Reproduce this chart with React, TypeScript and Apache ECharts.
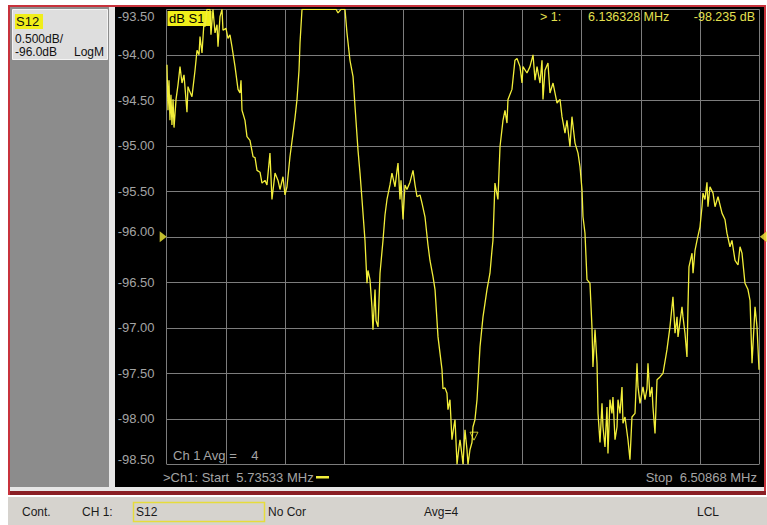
import React, { useEffect, useRef } from "react";
import * as echarts from "echarts";

// ---- Data (network analyzer S12 trace) ----
const freqMHz = [
  5.7357, 5.7370, 5.7383, 5.7396, 5.7409, 5.7422, 5.7436, 5.7449, 5.7475, 5.7501,
  5.7527, 5.7553, 5.7579, 5.7618, 5.7631, 5.7657, 5.7683, 5.7723, 5.7749, 5.7775,
  5.7788, 5.7814, 5.7840, 5.7853, 5.7879, 5.7918, 5.7931, 5.7957, 5.7984, 5.8010,
  5.8023, 5.8049, 5.8075, 5.8088, 5.8127, 5.8153, 5.8179, 5.8205, 5.8245, 5.8284,
  5.8310, 5.8323, 5.8336, 5.8375, 5.8401, 5.8440, 5.8480, 5.8506, 5.8532, 5.8571,
  5.8597, 5.8636, 5.8662, 5.8701, 5.8727, 5.8767, 5.8806, 5.8832, 5.8871, 5.8897,
  5.8923, 5.8962, 5.9002, 5.9028, 5.9054, 5.9080, 5.9093, 5.9119, 5.9354, 5.9563,
  5.9589, 5.9628, 5.9680, 5.9706, 5.9745, 5.9785, 5.9811, 5.9850, 5.9876, 5.9902,
  5.9941, 5.9967, 5.9980, 6.0006, 6.0032, 6.0045, 6.0072, 6.0085, 6.0111, 6.0137,
  6.0176, 6.0202, 6.0228, 6.0267, 6.0293, 6.0333, 6.0359, 6.0372, 6.0398, 6.0411,
  6.0437, 6.0463, 6.0489, 6.0528, 6.0568, 6.0594, 6.0620, 6.0659, 6.0685, 6.0724,
  6.0763, 6.0789, 6.0829, 6.0855, 6.0894, 6.0946, 6.0959, 6.0985, 6.1011, 6.1024,
  6.1050, 6.1076, 6.1103, 6.1116, 6.1142, 6.1168, 6.1181, 6.1207, 6.1220, 6.1246,
  6.1272, 6.1285, 6.1311, 6.1337, 6.1350, 6.1376, 6.1403, 6.1442, 6.1481, 6.1533,
  6.1572, 6.1598, 6.1611, 6.1637, 6.1676, 6.1703, 6.1742, 6.1768, 6.1794, 6.1807,
  6.1859, 6.1898, 6.1925, 6.1964, 6.1990, 6.2003, 6.2055, 6.2094, 6.2134, 6.2160,
  6.2186, 6.2225, 6.2251, 6.2264, 6.2290, 6.2329, 6.2355, 6.2395, 6.2447, 6.2486,
  6.2512, 6.2551, 6.2577, 6.2616, 6.2642, 6.2682, 6.2721, 6.2747, 6.2773, 6.2786,
  6.2812, 6.2838, 6.2877, 6.2903, 6.2916, 6.2943, 6.2969, 6.2982, 6.3008, 6.3034,
  6.3047, 6.3073, 6.3099, 6.3112, 6.3138, 6.3164, 6.3177, 6.3204, 6.3230, 6.3243,
  6.3269, 6.3295, 6.3308, 6.3334, 6.3373, 6.3399, 6.3425, 6.3465, 6.3491, 6.3504,
  6.3530, 6.3569, 6.3595, 6.3621, 6.3634, 6.3660, 6.3686, 6.3699, 6.3726, 6.3752,
  6.3791, 6.3830, 6.3882, 6.3921, 6.3947, 6.3960, 6.3987, 6.4013, 6.4026, 6.4078,
  6.4091, 6.4117, 6.4143, 6.4156, 6.4169, 6.4209, 6.4222, 6.4248, 6.4274, 6.4313,
  6.4339, 6.4352, 6.4378, 6.4404, 6.4417, 6.4443, 6.4483, 6.4509, 6.4548, 6.4600,
  6.4639, 6.4665, 6.4704, 6.4730, 6.4770, 6.4809, 6.4835, 6.4861, 6.4900, 6.4939,
  6.4966, 6.4992, 6.5031, 6.5057, 6.5083,
];

const s12dB = [
  -94.11, -94.61, -94.28, -94.72, -94.44, -94.77, -94.49, -94.80, -94.49, -94.33,
  -94.13, -94.31, -94.22, -94.63, -94.35, -94.41, -94.46, -94.17, -93.95, -94.00,
  -93.80, -93.98, -93.64, -93.69, -93.50, -93.50, -93.78, -93.50, -93.76, -93.67,
  -93.91, -93.58, -93.50, -93.73, -93.71, -93.82, -93.78, -93.91, -94.13, -94.38,
  -94.42, -94.28, -94.61, -94.72, -94.90, -94.94, -95.12, -95.13, -95.27, -95.29,
  -95.41, -95.38, -95.43, -95.08, -95.59, -95.30, -95.38, -95.48, -95.34, -95.54,
  -95.45, -95.12, -94.86, -94.69, -94.49, -94.17, -93.87, -93.50, -93.50, -93.50,
  -93.54, -93.50, -93.50, -93.76, -94.06, -94.24, -94.57, -95.05, -95.30, -95.59,
  -96.04, -96.51, -96.37, -96.47, -96.77, -97.02, -96.58, -96.92, -96.99, -96.40,
  -96.04, -95.76, -95.59, -95.43, -95.30, -95.45, -95.27, -95.19, -95.59, -95.38,
  -95.81, -95.43, -95.48, -95.40, -95.27, -95.43, -95.56, -95.54, -95.63, -95.78,
  -96.09, -96.26, -96.44, -96.58, -97.10, -97.46, -97.67, -97.66, -97.72, -97.90,
  -97.79, -98.23, -98.07, -98.01, -98.50, -98.31, -98.23, -98.40, -98.50, -98.12,
  -98.34, -98.50, -98.34, -98.26, -98.09, -98.01, -97.79, -97.21, -96.88, -96.58,
  -96.40, -96.15, -96.04, -95.41, -95.59, -95.01, -94.72, -94.61, -94.75, -94.49,
  -94.38, -94.06, -94.04, -94.13, -94.31, -94.13, -94.20, -94.13, -94.00, -94.28,
  -94.13, -94.31, -94.06, -94.49, -94.17, -94.09, -94.42, -94.31, -94.53, -94.49,
  -94.68, -94.86, -94.72, -95.01, -94.68, -94.97, -95.08, -95.23, -95.48, -95.78,
  -95.96, -96.47, -96.51, -96.99, -97.43, -97.02, -97.39, -97.94, -98.26, -97.83,
  -98.09, -98.31, -97.87, -98.38, -97.79, -97.94, -97.76, -98.23, -98.09, -97.79,
  -97.94, -97.65, -98.05, -97.98, -98.23, -98.45, -97.98, -97.94, -97.39, -97.65,
  -97.83, -97.65, -97.79, -97.67, -97.39, -97.76, -97.65, -97.87, -98.16, -97.57,
  -97.54, -97.50, -97.24, -96.99, -96.77, -96.66, -97.06, -96.88, -97.10, -96.77,
  -96.88, -97.06, -97.32, -96.77, -96.33, -96.18, -96.40, -96.15, -96.04, -95.89,
  -95.67, -95.52, -95.59, -95.40, -95.67, -95.45, -95.52, -95.67, -95.56, -95.74,
  -95.81, -95.96, -96.11, -96.04, -96.26, -96.31, -96.11, -96.18, -96.51, -96.58,
  -96.70, -97.39, -96.77, -96.99, -97.46,
];

// Instrument settings
const startMHz = 5.73533;
const stopMHz = 6.50868;
const dbPerDiv = 0.5;
const refLevelDb = -96.0;
const yTopDb = -93.5;
const yBottomDb = -98.5;
const avgFactor = 4;
const marker1 = { freqMHz: 6.136328, db: -98.235 };

const FONT = "'Liberation Sans', Arial, sans-serif";
const TRACE = "#f2ee3a";
const GRIDC = "#7c7c7c";
const LABELC = "#a4a4a4";

export default function App() {
  const ref = useRef<HTMLDivElement>(null);

  useEffect(() => {
    document.body.style.margin = "0";
    const chart = echarts.init(ref.current!, undefined, { renderer: "svg" });

    const trace = freqMHz.map((f, i) => [f, s12dB[i]]);

    const option: any = {
      animation: false,
      backgroundColor: "#ffffff",
      grid: { left: 166.7, top: 9.3, width: 592.6, height: 455, show: false },
      xAxis: [
        { type: "value", min: startMHz, max: stopMHz, show: false },
        {
          type: "value", min: 0, max: 10, interval: 1,
          axisLine: { show: false }, axisTick: { show: false }, axisLabel: { show: false },
          splitLine: { show: true, lineStyle: { color: GRIDC, width: 1 } },
        },
      ],
      yAxis: {
        type: "value", min: yBottomDb, max: yTopDb, interval: dbPerDiv,
        axisLine: { show: false }, axisTick: { show: false },
        splitLine: { show: true, lineStyle: { color: GRIDC, width: 1 } },
        axisLabel: {
          show: true, align: "left", margin: 49,
          formatter: (v: number) => {
            const s = v.toFixed(2);
            if (Math.abs(v - yTopDb) < 1e-6) return `{t|${s}}`;
            if (Math.abs(v - refLevelDb) < 1e-6 || Math.abs(v - yBottomDb) < 1e-6) return `{u|${s}}`;
            return `{n|${s}}`;
          },
          rich: {
            n: { color: LABELC, fontSize: 13, fontFamily: FONT },
            t: { color: LABELC, fontSize: 13, fontFamily: FONT, padding: [15, 0, 0, 0] },
            u: { color: LABELC, fontSize: 13, fontFamily: FONT, padding: [0, 0, 10, 0] },
          },
        },
      },
      series: [
        {
          type: "line",
          xAxisIndex: 0, yAxisIndex: 0,
          data: trace,
          showSymbol: false,
          symbol: "none",
          lineStyle: { color: TRACE, width: 1.3 },
          z: 5,
        },
        {
          type: "scatter",
          xAxisIndex: 0, yAxisIndex: 0,
          clip: false,
          silent: true,
          z: 6,
          data: [
            { value: [startMHz, refLevelDb], symbol: "triangle", symbolRotate: -90, symbolSize: [11, 7], symbolOffset: [-3.5, 0], itemStyle: { color: TRACE } },
            { value: [stopMHz, refLevelDb], symbol: "triangle", symbolRotate: 90, symbolSize: [11, 7], symbolOffset: [4, 0], itemStyle: { color: TRACE } },
            { value: [marker1.freqMHz, marker1.db], symbol: "path://M0,0 L10,0 L5,9 Z", symbolSize: [8, 8], symbolOffset: [0, -4], itemStyle: { color: "rgba(0,0,0,0)", borderColor: TRACE, borderWidth: 1 } },
          ],
        },
      ],
      graphic: [
        // frame & panels
        { type: "rect", z: -20, shape: { x: 8, y: 5, width: 758, height: 490 }, style: { fill: "#c8323c" } },
        { type: "rect", z: -19, shape: { x: 10, y: 7, width: 754, height: 484 }, style: { fill: "#e6e6e6" } },
        { type: "rect", z: -18, shape: { x: 10, y: 7, width: 99, height: 480 }, style: { fill: "#8c8c8c" } },
        { type: "rect", z: -18, shape: { x: 115, y: 7, width: 649, height: 480 }, style: { fill: "#000000" } },
        { type: "rect", z: -18, shape: { x: 10, y: 491, width: 756, height: 4 }, style: { fill: "#8a1e24" } },
        // status bar
        { type: "rect", z: -18, shape: { x: 8, y: 497, width: 759, height: 28 }, style: { fill: "#d6d3ce" } },
        { type: "rect", z: -17, shape: { x: 133.5, y: 502.5, width: 131, height: 19 }, style: { fill: "none", stroke: "#e6dc3c", lineWidth: 1.5 } },
        { type: "text", z: 10, x: 22, y: 512, style: { text: "Cont.", fill: "#1a1a1a", font: `12px ${FONT}`, verticalAlign: "middle" } },
        { type: "text", z: 10, x: 82, y: 512, style: { text: "CH 1:", fill: "#1a1a1a", font: `12px ${FONT}`, verticalAlign: "middle" } },
        { type: "text", z: 10, x: 136, y: 512, style: { text: "S12", fill: "#1a1a1a", font: `12px ${FONT}`, verticalAlign: "middle" } },
        { type: "text", z: 10, x: 268, y: 512, style: { text: "No Cor", fill: "#1a1a1a", font: `12px ${FONT}`, verticalAlign: "middle" } },
        { type: "text", z: 10, x: 424, y: 512, style: { text: `Avg=${avgFactor}`, fill: "#1a1a1a", font: `12px ${FONT}`, verticalAlign: "middle" } },
        { type: "text", z: 10, x: 697, y: 512, style: { text: "LCL", fill: "#1a1a1a", font: `12px ${FONT}`, verticalAlign: "middle" } },
        // info box
        { type: "rect", z: -16, shape: { x: 12.5, y: 9.5, width: 95, height: 50 }, style: { fill: "#dedede", stroke: "#f4f4f4", lineWidth: 1 } },
        { type: "rect", z: -15, shape: { x: 15, y: 14, width: 28, height: 15 }, style: { fill: "#f0ee1a" } },
        { type: "text", z: 10, x: 16, y: 21.5, style: { text: "S12", fill: "#111", font: `13px ${FONT}`, verticalAlign: "middle" } },
        { type: "text", z: 10, x: 15, y: 38.5, style: { text: `${dbPerDiv.toFixed(3)}dB/`, fill: "#111", font: `12px ${FONT}`, verticalAlign: "middle" } },
        { type: "text", z: 10, x: 15, y: 51.5, style: { text: `${refLevelDb.toFixed(1)}dB`, fill: "#111", font: `12px ${FONT}`, verticalAlign: "middle" } },
        { type: "text", z: 10, x: 74, y: 51.5, style: { text: "LogM", fill: "#111", font: `12px ${FONT}`, verticalAlign: "middle" } },
        // trace title tag
        { type: "rect", z: 1, shape: { x: 167.5, y: 11, width: 44, height: 15 }, style: { fill: "#f0ee1a" } },
        { type: "text", z: 2, x: 169, y: 18.5, style: { text: "dB S1", fill: "#000", font: `13px ${FONT}`, verticalAlign: "middle" } },
        // marker readout
        { type: "text", z: 10, x: 540, y: 17, style: { text: "> 1:", fill: "#e4e050", font: `12.5px ${FONT}`, verticalAlign: "middle" } },
        { type: "text", z: 10, x: 588, y: 17, style: { text: `${marker1.freqMHz.toFixed(6)} MHz`, fill: "#e4e050", font: `12.5px ${FONT}`, verticalAlign: "middle" } },
        { type: "text", z: 10, x: 755, y: 17, style: { text: `${marker1.db.toFixed(3)} dB`, fill: "#e4e050", font: `12.5px ${FONT}`, verticalAlign: "middle", align: "right" } },
        // bottom annotations
        { type: "text", z: 10, x: 173, y: 455, style: { text: `Ch 1 Avg =    ${avgFactor}`, fill: LABELC, font: `13px ${FONT}`, verticalAlign: "middle" } },
        { type: "text", z: 10, x: 163, y: 477, style: { text: `>Ch1: Start  ${startMHz.toFixed(5)} MHz`, fill: LABELC, font: `13px ${FONT}`, verticalAlign: "middle" } },
        { type: "rect", z: 10, shape: { x: 316, y: 476, width: 13, height: 2.5 }, style: { fill: TRACE } },
        { type: "text", z: 10, x: 757, y: 477, style: { text: `Stop  ${stopMHz.toFixed(5)} MHz`, fill: LABELC, font: `13px ${FONT}`, verticalAlign: "middle", align: "right" } },
      ],
    };

    chart.setOption(option);
    return () => chart.dispose();
  }, []);

  return <div ref={ref} style={{ width: 767, height: 525 }} />;
}
